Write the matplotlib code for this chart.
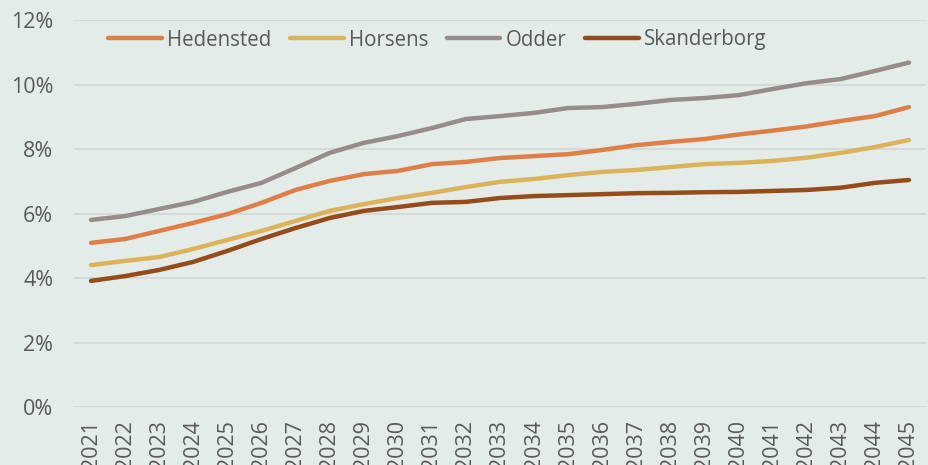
import matplotlib.pyplot as plt
from matplotlib.ticker import PercentFormatter

years = [str(y) for y in range(2021, 2046)]

# andele i procent
hedensted = [5.09, 5.21, 5.46, 5.71, 5.98, 6.33, 6.73, 7.01, 7.22, 7.32, 7.53, 7.60, 7.72,
             7.78, 7.84, 7.97, 8.12, 8.22, 8.31, 8.45, 8.57, 8.70, 8.87, 9.02, 9.30]
horsens = [4.40, 4.53, 4.65, 4.90, 5.18, 5.46, 5.77, 6.08, 6.29, 6.48, 6.64, 6.82, 6.98,
           7.07, 7.19, 7.29, 7.35, 7.44, 7.53, 7.57, 7.63, 7.73, 7.88, 8.06, 8.28]
odder = [5.80, 5.92, 6.14, 6.36, 6.67, 6.95, 7.41, 7.88, 8.19, 8.40, 8.65, 8.93, 9.02,
         9.12, 9.27, 9.30, 9.40, 9.52, 9.58, 9.67, 9.86, 10.04, 10.17, 10.42, 10.68]
skanderborg = [3.91, 4.06, 4.25, 4.50, 4.84, 5.21, 5.55, 5.86, 6.08, 6.20, 6.33, 6.36, 6.48,
               6.54, 6.57, 6.60, 6.63, 6.64, 6.66, 6.67, 6.70, 6.73, 6.80, 6.95, 7.04]

series = [("Hedensted", hedensted, "#E07F45"),
          ("Horsens", horsens, "#DDB35A"),
          ("Odder", odder, "#978C8A"),
          ("Skanderborg", skanderborg, "#954B1A")]

bg = "#E3ECE8"
txt = "#595959"
plt.rcParams['font.family'] = ['Open Sans', 'DejaVu Sans']

fig = plt.figure(figsize=(9.29, 4.65), dpi=100, facecolor=bg)
ax = fig.add_axes([74 / 929, 1 - 407 / 465, 852 / 929, 387 / 465])
ax.set_facecolor(bg)

x = list(range(len(years)))
for name, vals, col in series:
    ax.plot(x, vals, color=col, lw=3.2, solid_capstyle='round', solid_joinstyle='round', label=name)

ax.set_xlim(-0.5, len(years) - 0.5)
ax.set_ylim(0, 12)
ax.set_yticks(range(0, 13, 2))
ax.yaxis.set_major_formatter(PercentFormatter(decimals=0))
ax.set_xticks(x)
ax.set_xticklabels(years, rotation=90, va='top')
ax.grid(axis='y', color='#D3D6D5', lw=1.2)
ax.set_axisbelow(True)
for s in ax.spines.values():
    s.set_visible(False)
ax.tick_params(axis='y', length=0, pad=15, labelsize=15.5, labelcolor=txt)
ax.tick_params(axis='x', length=0, pad=9.5, labelsize=15.5, labelcolor=txt)

fig.legend(loc='center left', bbox_to_anchor=(108 / 929, 1 - 40 / 465), ncol=4, frameon=False,
           fontsize=14.8, labelcolor=txt, handlelength=2.62, handletextpad=0.25, columnspacing=0.9,
           borderaxespad=0, borderpad=0)

fig.savefig("out.png", dpi=100, facecolor=bg)
